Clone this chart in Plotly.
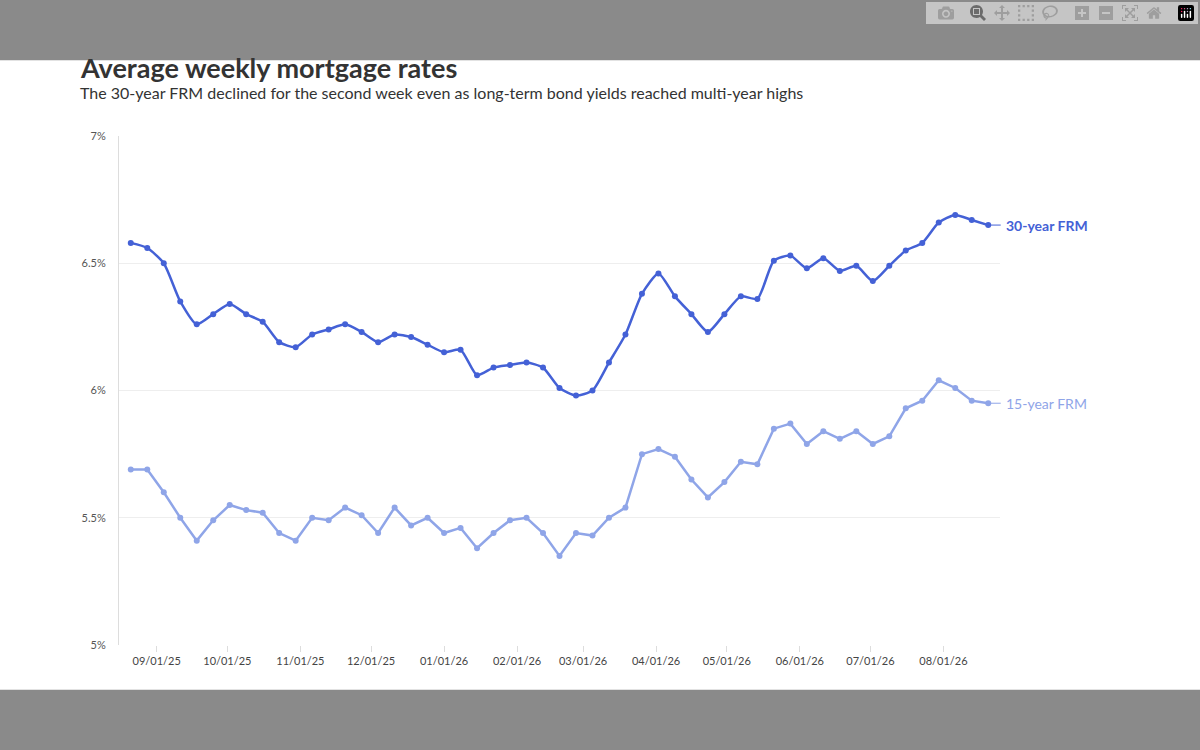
import plotly.graph_objects as go
import pandas as pd

dates = pd.date_range("2025-08-21", periods=53, freq="7D")
frm30 = [6.58,6.56,6.50,6.35,6.26,6.30,6.34,6.30,6.27,6.19,6.17,6.22,6.24,6.26,6.23,6.19,6.22,6.21,6.18,6.15,
         6.16,6.06,6.09,6.10,6.11,6.09,6.01,5.98,6.00,6.11,6.22,6.38,6.46,6.37,6.30,6.23,6.30,6.37,6.36,6.51,
         6.53,6.48,6.52,6.47,6.49,6.43,6.49,6.55,6.58,6.66,6.69,6.67,6.65]
frm15 = [5.69,5.69,5.60,5.50,5.41,5.49,5.55,5.53,5.52,5.44,5.41,5.50,5.49,5.54,5.51,5.44,5.54,5.47,5.50,5.44,
         5.46,5.38,5.44,5.49,5.50,5.44,5.35,5.44,5.43,5.50,5.54,5.75,5.77,5.74,5.65,5.58,5.64,5.72,5.71,5.85,
         5.87,5.79,5.84,5.81,5.84,5.79,5.82,5.93,5.96,6.04,6.01,5.96,5.95]
tickvals = pd.date_range("2025-09-01", periods=12, freq="MS")
ticktext = [d.strftime("%m/%d/%y") for d in tickvals]
c30, c15 = "#4461d6", "#8fa5e8"

fig = go.Figure()
fig.add_trace(go.Scatter(x=dates, y=frm15, mode="lines+markers", line=dict(color=c15, width=2.5),
                         marker=dict(size=6, color=c15), name="15-year FRM"))
fig.add_trace(go.Scatter(x=dates, y=frm30, mode="lines+markers", line=dict(color=c30, width=2.5, shape="spline", smoothing=0.6),
                         marker=dict(size=6, color=c30), name="30-year FRM"))
for y, t, c in [(frm30[-1], "30-year FRM", c30), (frm15[-1], "15-year FRM", c15)]:
    fig.add_annotation(x=dates[-1], y=y, text="<b>"+t+"</b>" if c == c30 else t, showarrow=False, xanchor="left",
                       xshift=16, font=dict(color=c, size=14, family="Lato"))
    fig.add_annotation(x=dates[-1], y=y, ax=14, ay=0, axref="pixel", ayref="pixel", text="", showarrow=True,
                       arrowhead=0, arrowwidth=1, arrowcolor=c)

fig.add_annotation(xref="paper", yref="paper", x=-0.047, y=1.134, xanchor="left", yanchor="middle",
                   text="<b>Average weekly mortgage rates</b>", showarrow=False, font=dict(size=27, color="#333", family="Lato"))
fig.add_annotation(xref="paper", yref="paper", x=-0.047, y=1.085, xanchor="left", yanchor="middle",
                   text="The 30-year FRM declined for the second week even as long-term bond yields reached multi-year highs",
                   showarrow=False, font=dict(size=16, color="#333", family="Lato"))
fig.add_shape(type="rect", xref="paper", yref="paper", x0=-0.2, x1=1.3, y0=1.149, y1=1.5, fillcolor="#8a8a8a", line_width=0, layer="above")
fig.add_shape(type="rect", xref="paper", yref="paper", x0=-0.2, x1=1.3, y0=-0.088, y1=-0.5, fillcolor="#8a8a8a", line_width=0, layer="above")
fig.update_layout(
    width=1200, height=750, margin=dict(l=119, r=200, t=136, b=105),
    plot_bgcolor="white", paper_bgcolor="white", showlegend=False,
    xaxis=dict(tickvals=tickvals, ticktext=ticktext, range=["2025-08-16", "2026-08-25"], showgrid=False,
               showline=False, zeroline=False, tickfont=dict(size=11, color="#444", family="Lato"), ticks="outside",
               ticklen=6, tickcolor="#ddd"),
    yaxis=dict(range=[5, 7], tickvals=[5, 5.5, 6, 6.5, 7], ticktext=["5%", "5.5%", "6%", "6.5%", "7%"],
               gridcolor="#eee", zeroline=False, showline=True, linecolor="#ddd",
               tickfont=dict(size=11, color="#555", family="Lato"), ticks="", ticklabelstandoff=10),
)
fig.write_html("out.html")
with open("out.html", encoding="utf-8") as f:
    html = f.read()
html = html.replace("<head>", "<head><style>html,body{margin:0;padding:0;overflow:hidden;}</style>", 1)
with open("out.html", "w", encoding="utf-8") as f:
    f.write(html)
